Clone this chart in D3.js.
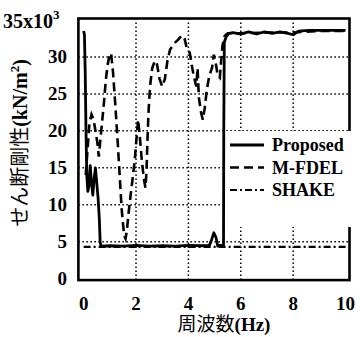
<!DOCTYPE html>
<html><head><meta charset="utf-8">
<script src="https://cdn.jsdelivr.net/npm/d3@7/dist/d3.min.js"></script>
<style>html,body{margin:0;padding:0;background:#fff;}svg{display:block;}</style>
</head><body>
<svg id="c" width="360" height="337"></svg>
<script>
// ---- data ----
const xTicks = [0, 2, 4, 6, 8, 10];
const yTicks = [0, 5, 10, 15, 20, 25, 30];
const seriesNames = ["Proposed", "M-FDEL", "SHAKE"];
const proposedX = [0, 0.03, 0.06, 0.09, 0.12, 0.16, 0.2, 0.25, 0.3, 0.35, 0.4, 0.45, 0.5, 0.55, 0.6, 0.63, 0.66, 1.0, 1.5, 2.0, 2.5, 3.0, 3.5, 4.0, 4.5, 4.8, 4.88, 4.97, 5.05, 5.12, 5.2, 5.34, 5.35, 5.37, 5.45, 5.55, 5.7, 6.0, 6.3, 6.6, 6.9, 7.2, 7.5, 7.8, 8.0, 8.2, 8.6, 9.0, 9.5, 10.0];
const proposedY = [33.5, 33, 28, 20, 14, 11.8, 12.5, 15.3, 13, 11.3, 13.5, 15, 13, 11, 8, 5, 4.4, 4.45, 4.4, 4.5, 4.4, 4.45, 4.4, 4.5, 4.45, 4.5, 5.2, 6.2, 5.6, 4.4, 4.5, 4.5, 20, 32, 32.8, 33.2, 33.3, 33.1, 33.4, 33.1, 33.4, 33.2, 33.4, 33.2, 33.0, 33.5, 33.6, 33.6, 33.6, 33.6];
const mfdelX = [0.08, 0.15, 0.22, 0.3, 0.38, 0.45, 0.52, 0.58, 0.63, 0.7, 0.78, 0.85, 0.92, 1.0, 1.05, 1.12, 1.2, 1.3, 1.35, 1.4, 1.45, 1.5, 1.55, 1.6, 1.65, 1.72, 1.8, 1.88, 1.95, 2.02, 2.08, 2.15, 2.22, 2.3, 2.36, 2.4, 2.43, 2.47, 2.5, 2.55, 2.62, 2.72, 2.8, 2.9, 3.0, 3.1, 3.2, 3.3, 3.45, 3.6, 3.75, 3.85, 3.95, 4.05, 4.12, 4.2, 4.3, 4.35, 4.4, 4.48, 4.55, 4.62, 4.7, 4.8, 4.9, 4.97, 5.05, 5.12, 5.2, 5.25, 5.3, 5.38, 5.5, 6.0, 7.0, 8.0, 9.0, 10.0];
const mfdelY = [14, 17.5, 21, 22.2, 21.5, 20, 18.5, 16.5, 18.5, 21, 24, 27, 29, 30.5, 30.4, 28, 24, 18.5, 15.5, 12.5, 9.5, 7.5, 5.8, 5.4, 6.5, 9, 11.5, 13.8, 16, 19, 21.5, 19, 16, 13.5, 12.3, 14.5, 18, 22, 24, 26.5, 28.5, 29.5, 29, 27, 26, 27, 29.5, 31, 31.8, 32.3, 32.9, 32.5, 31, 30.6, 29, 27.5, 26, 28.5, 24.5, 22.5, 21.5, 23, 25.5, 27.5, 28.5, 30.3, 29, 27.5, 27.2, 29.5, 31.5, 32.8, 33.2, 33.2, 33.3, 33.3, 33.5, 33.5];
const shakeX = [0, 10];
const shakeY = [4.3, 4.3];

// ---- layout ----
const svg = d3.select("#c");
const x = d3.scaleLinear().domain([-0.2, 10.15]).range([78.4, 349.5]);
const y = d3.scaleLinear().domain([-0.2, 35.2]).range([280.1, 18.5]);
const serif = "'Liberation Serif','Times New Roman',serif";
const cjk = "'Liberation Serif','Noto Sans CJK JP',serif";

// grid
const g = svg.append("g");
g.selectAll("line.vx").data(xTicks.filter(d => d > 0 && d < 10)).join("line")
  .attr("x1", d => x(d)).attr("x2", d => x(d)).attr("y1", y(35.2)).attr("y2", y(-0.2))
  .attr("stroke", "#000").attr("stroke-width", 1.5).attr("stroke-dasharray", "1.5,2.5");
g.selectAll("line.hy").data(yTicks.filter(d => d > 0)).join("line")
  .attr("y1", d => y(d)).attr("y2", d => y(d)).attr("x1", x(-0.2)).attr("x2", x(10.15))
  .attr("stroke", "#000").attr("stroke-width", 1.5).attr("stroke-dasharray", "1.5,2.5");

const line = d3.line().x(d => x(d[0])).y(d => y(d[1]));
const zip = (a, b) => a.map((v, i) => [v, b[i]]);

svg.append("path").attr("d", line(zip(shakeX, shakeY))).attr("fill", "none")
  .attr("stroke", "#000").attr("stroke-width", 2.2).attr("stroke-dasharray", "7,3,2,3");
svg.append("path").attr("d", line(zip(mfdelX, mfdelY))).attr("fill", "none")
  .attr("stroke", "#000").attr("stroke-width", 2.6).attr("stroke-dasharray", "9,5");
svg.append("path").attr("d", line(zip(proposedX, proposedY))).attr("fill", "none")
  .attr("stroke", "#000").attr("stroke-width", 2.8).attr("stroke-linejoin", "round");

// frame
svg.append("rect").attr("x", x(-0.2)).attr("y", y(35.2))
  .attr("width", x(10.15) - x(-0.2)).attr("height", y(-0.2) - y(35.2))
  .attr("fill", "none").attr("stroke", "#000").attr("stroke-width", 2.6);

// legend
svg.append("rect").attr("x", 226).attr("y", 131).attr("width", 130).attr("height", 96).attr("fill", "#fff");
const dashes = [null, "9,5", "7,3,2,3"];
const widths = [2.8, 2.6, 2.2];
const lg = svg.append("g");
seriesNames.forEach((name, i) => {
  const cy = 145 + i * 22.5;
  lg.append("line").attr("x1", 230).attr("x2", 264).attr("y1", cy).attr("y2", cy)
    .attr("stroke", "#000").attr("stroke-width", widths[i]).attr("stroke-dasharray", dashes[i]);
  lg.append("text").attr("x", 272).attr("y", cy + 6).text(name)
    .attr("font-family", serif).attr("font-size", 18).attr("font-weight", "bold");
});

// tick labels
svg.selectAll("text.yt").data(yTicks).join("text").attr("class", "yt")
  .attr("x", 67).attr("y", d => y(d) + 6.5).attr("text-anchor", "end")
  .attr("font-family", serif).attr("font-size", 19).attr("font-weight", "bold").text(d => d);
svg.selectAll("text.xt").data(xTicks).join("text").attr("class", "xt")
  .attr("x", d => x(d)).attr("y", 310).attr("text-anchor", "middle")
  .attr("font-family", serif).attr("font-size", 19).attr("font-weight", "bold").text(d => d);

const ex = svg.append("text").attr("x", 3).attr("y", 28)
  .attr("font-family", serif).attr("font-size", 20).attr("font-weight", "bold");
ex.append("tspan").text("35x10");
ex.append("tspan").attr("dy", -9).attr("font-size", 13).text("3");

// axis labels
const xl = svg.append("text").attr("x", 224).attr("y", 331).attr("text-anchor", "middle")
  .attr("font-family", cjk).attr("font-size", 19);
xl.append("tspan").text("周波数");
xl.append("tspan").attr("font-weight", "bold").text("(Hz)");

const yl = svg.append("text").attr("transform", "translate(27,143) rotate(-90)")
  .attr("text-anchor", "middle").attr("font-family", cjk).attr("font-size", 20);
yl.append("tspan").text("せん断剛性");
yl.append("tspan").attr("font-weight", "bold").text("(kN/m");
yl.append("tspan").attr("font-weight", "bold").attr("dy", -8).attr("font-size", 13).text("2");
yl.append("tspan").attr("font-weight", "bold").attr("dy", 8).text(")");
</script>
</body></html>
